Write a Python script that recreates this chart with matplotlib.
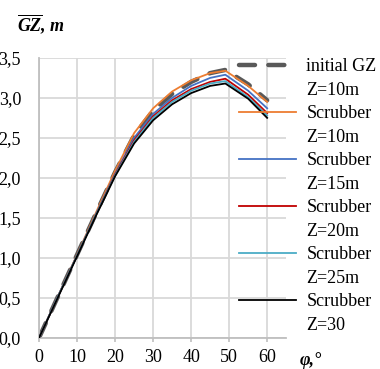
import matplotlib
matplotlib.use('Agg')
import matplotlib.pyplot as plt
from matplotlib.lines import Line2D

# heel angle, degrees
phi = [0, 5, 10, 15, 20, 25, 30, 35, 40, 45, 49, 55, 60]

# righting lever GZ, m
gz_initial = [0, 0.52, 1.04, 1.56, 2.07, 2.53, 2.84, 3.05, 3.20, 3.31, 3.35, 3.17, 2.97]
gz_z10 = [0, 0.52, 1.04, 1.57, 2.09, 2.56, 2.87, 3.08, 3.22, 3.31, 3.34, 3.15, 2.95]
gz_z15 = [0, 0.52, 1.03, 1.55, 2.05, 2.50, 2.80, 3.00, 3.15, 3.25, 3.29, 3.09, 2.87]
gz_z20 = [0, 0.52, 1.03, 1.54, 2.04, 2.47, 2.77, 2.97, 3.11, 3.20, 3.24, 3.04, 2.81]
gz_z25 = [0, 0.52, 1.03, 1.54, 2.03, 2.45, 2.75, 2.95, 3.09, 3.18, 3.21, 3.01, 2.78]
gz_z30 = [0, 0.51, 1.02, 1.53, 2.02, 2.43, 2.72, 2.92, 3.06, 3.15, 3.18, 2.99, 2.75]

xticks = [0, 10, 20, 30, 40, 50, 60]
yticks = [0.0, 0.5, 1.0, 1.5, 2.0, 2.5, 3.0, 3.5]
ytick_labels = ['0,0', '0,5', '1,0', '1,5', '2,0', '2,5', '3,0', '3,5']

series = [
    (gz_z10, '#ED7D31', 'Scrubber', 'Z=10m'),
    (gz_z15, '#4472C4', 'Scrubber', 'Z=15m'),
    (gz_z20, '#C00000', 'Scrubber', 'Z=20m'),
    (gz_z25, '#4BACC6', 'Scrubber', 'Z=25m'),
    (gz_z30, '#000000', 'Scrubber', 'Z=30'),
]

plt.rcParams['font.family'] = 'Liberation Serif'
plt.rcParams['mathtext.fontset'] = 'custom'
plt.rcParams['mathtext.it'] = 'Liberation Serif:italic:bold'
plt.rcParams['mathtext.rm'] = 'Liberation Serif:bold'

fig = plt.figure(figsize=(3.8, 3.69), dpi=100)
ax = fig.add_axes([0.103, 0.085, 0.650, 0.758])

dash_line, = ax.plot(phi, gz_initial, color='#595959', lw=3.2, dashes=(3.6, 3.0),
                     dash_capstyle='round', zorder=2)
lines = []
for vals, col, l1, l2 in series:
    ln, = ax.plot(phi, vals, color=col, lw=1.3, zorder=3)
    lines.append(ln)

ax.set_xlim(0, 65)
ax.set_ylim(0, 3.5)
ax.set_xticks(xticks)
ax.set_yticks(yticks)
ax.set_yticklabels(ytick_labels)
ax.tick_params(axis='x', length=3, color='#bfbfbf', width=1.2, labelsize=13, pad=5)
ax.tick_params(axis='y', length=0, labelsize=13, pad=13)
ax.grid(True, color='#d9d9d9', lw=1.3)
ax.set_axisbelow(True)
for s in ['top', 'right']:
    ax.spines[s].set_visible(False)
for s in ['left', 'bottom']:
    ax.spines[s].set_color('#bfbfbf')
    ax.spines[s].set_linewidth(1.3)

# legend: two text rows per entry, handle only on the first row
blank = Line2D([], [], color='none')
handles = [dash_line, blank]
labels = ['initial GZ', 'Z=10m']
for ln, (vals, col, l1, l2) in zip(lines, series):
    handles += [ln, blank]
    labels += [l1, l2]
fig.legend(handles, labels, loc='upper left', bbox_to_anchor=(0.628, 0.842),
           frameon=False, fontsize=13, handlelength=3.2, handletextpad=0.55,
           labelspacing=0.36, borderpad=0, borderaxespad=0)

fig.text(0.045, 0.935, r'$\overline{GZ}$, m', fontsize=13, fontweight='bold',
         style='italic', va='center', ha='left')
fig.text(0.788, 0.022, 'φ,°', fontsize=13, fontweight='bold', style='italic',
         va='center', ha='left')

fig.savefig('out.png', dpi=100)
